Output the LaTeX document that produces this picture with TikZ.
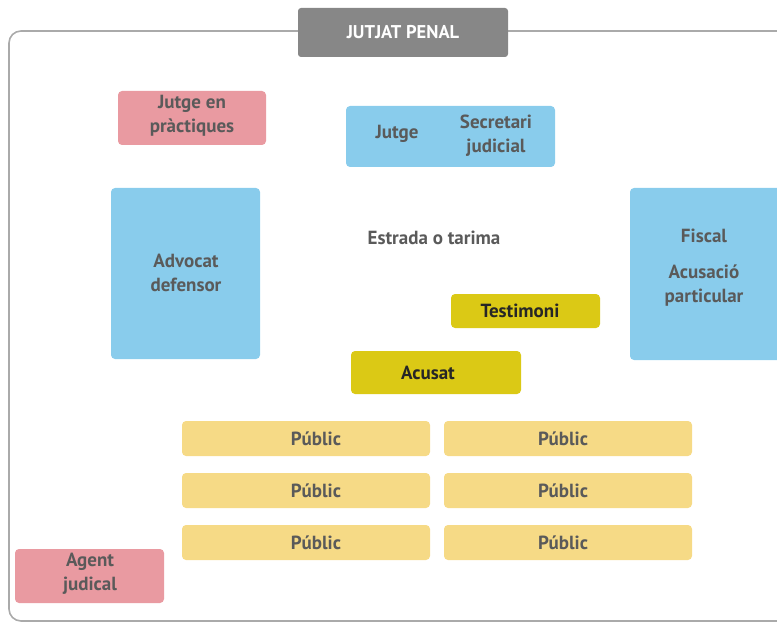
\documentclass[tikz,border=0pt]{standalone}
\usepackage{fontspec}
\setmainfont{PT Sans}
\definecolor{txt}{HTML}{5A5A5A}
\definecolor{pinkc}{HTML}{E99AA1}
\definecolor{bluec}{HTML}{89CCEC}
\definecolor{yellc}{HTML}{DBC915}
\definecolor{publc}{HTML}{F6DA86}
\definecolor{titlec}{HTML}{878787}
\definecolor{framec}{HTML}{AAAAAA}
\begin{document}
\begin{tikzpicture}[x=1pt,y=-1pt,
  lbl/.style={font=\bfseries\fontsize{19}{24}\selectfont, text=txt, align=center, inner sep=0pt},
  boxbase/.style={rounded corners=4pt, draw=none},
  pinkbox/.style={boxbase, fill=pinkc},
  bluebox/.style={boxbase, fill=bluec},
  yellbox/.style={boxbase, fill=yellc},
  publbox/.style={boxbase, fill=publc},
]
\useasboundingbox (0,0) rectangle (777,623);
% frame
\draw[framec, line width=1.6pt, rounded corners=12pt] (790,31) -- (9,31) -- (9,621) -- (790,621);
% title
\fill[titlec, rounded corners=3pt] (298,8) rectangle (508,57);
\node[font=\bfseries\fontsize{18.5}{20}\selectfont, text=white] (title) at (403,32) {JUTJAT PENAL};
% Jutge en practiques
\fill[pinkbox] (118,91) rectangle (266,145);
\node[lbl] (jep) at (192,116) {Jutge en\\pràctiques};
% Jutge / Secretari
\fill[bluebox] (346,106) rectangle (555,167);
\node[lbl] (jutge) at (397,134) {Jutge};
\node[lbl] (secr) at (496,136) {Secretari\\judicial};
% Advocat
\fill[bluebox] (111,188) rectangle (260,359);
\node[lbl] (adv) at (186,273) {Advocat\\defensor};
% Estrada
\node[lbl] (estrada) at (434,238) {Estrada o tarima};
% Fiscal
\fill[bluebox] (630,188) rectangle (790,360);
\node[lbl] (fiscal) at (704,236) {Fiscal};
\node[lbl] (acpart) at (704,286) {Acusació\\particular};
% Testimoni
\fill[yellbox] (451,294) rectangle (600,328);
\node[lbl, text=black!85] (test) at (520,311) {Testimoni};
% Acusat
\fill[yellbox] (351,351) rectangle (521,394);
\node[lbl, text=black!85] (acusat) at (428,373) {Acusat};
% Public
\foreach \y [count=\i] in {421,473,525}{
  \fill[publbox] (182,\y) rectangle (430,\y+35);
  \node[lbl] (pl\i) at (316,\y+17.5) {Públic};
  \fill[publbox] (444,\y) rectangle (692,\y+35);
  \node[lbl] (pr\i) at (563,\y+17.5) {Públic};
}
% Agent judical
\fill[pinkbox] (15,549) rectangle (164,603);
\node[lbl] (agent) at (90,574) {Agent\\judical};
\end{tikzpicture}
\end{document}
